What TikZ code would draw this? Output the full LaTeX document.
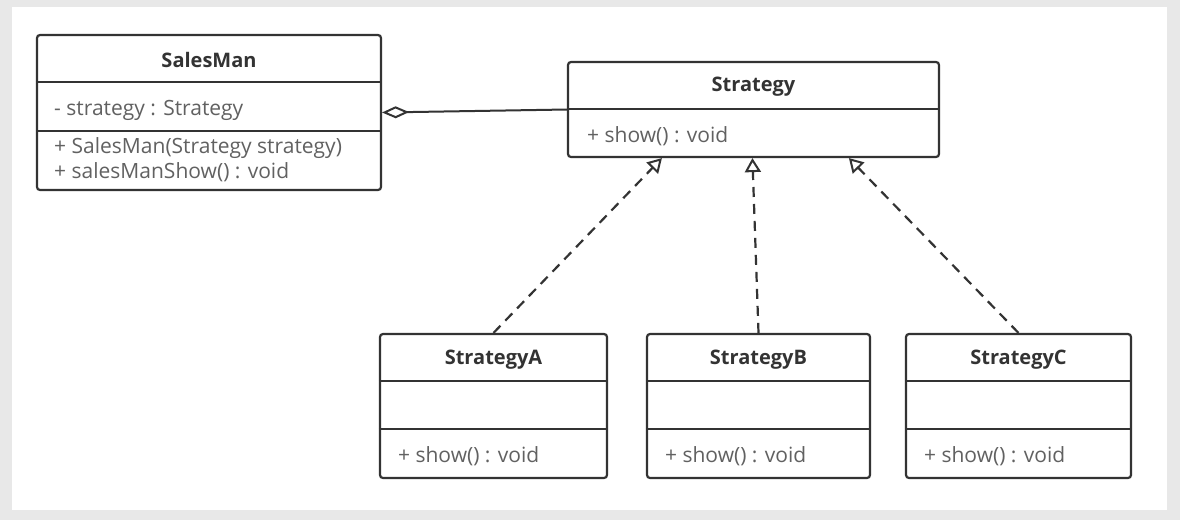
\documentclass[tikz,border=0pt]{standalone}
\usepackage{fontspec}
\setmainfont{Open Sans}
\usepackage{tikz}
\usetikzlibrary{positioning,calc,arrows.meta}

\begin{document}
\begin{tikzpicture}[x=1pt,y=-1pt,
  classbox/.style={draw=umlline,line width=2.2pt,rounded corners=3pt,fill=white,inner sep=0pt},
  divider/.style={draw=umlline,line width=2.2pt},
  classname/.style={font=\bfseries\fontsize{20}{24}\selectfont,text=umltitle},
  member/.style={font=\fontsize{21}{25}\selectfont,text=umltext,anchor=west,inner sep=0pt},
  aggregate/.style={draw=umlline,line width=2pt,{Diamond[open,length=27pt,width=12pt,line width=2pt]}-},
  realize/.style={draw=umlline,line width=2.2pt,dash pattern=on 10pt off 7pt,
    -{Triangle[open,length=14pt,width=16pt,line width=2pt]}}]
\colorlet{umlline}{black!80} \colorlet{umltitle}{black!80}
\colorlet{umltext}{black!62} \colorlet{frame}{black!9}
% frame and sheet
\fill[frame] (0,0) rectangle (1180,520);
\fill[white] (12,7) rectangle (1167,510);
% context class
\node[classbox,minimum width=344pt,minimum height=155pt] (salesman) at (209,112.5) {};
\draw[divider] ($(salesman.north west)+(0,48)$) -- ($(salesman.north east)+(0,48)$);
\draw[divider] ($(salesman.north west)+(0,97)$) -- ($(salesman.north east)+(0,97)$);
\node[classname] (salesmanName) at ($(salesman.north)+(0,26)$) {SalesMan};
\node[member] (salesmanAttr) at (54,110) {- strategy : Strategy};
\node[member] (salesmanCtor) at (54,148) {+ SalesMan(Strategy strategy)};
\node[member] (salesmanShow) at (54,172) {+ salesManShow() : void};
% interface
\node[classbox,minimum width=371pt,minimum height=95pt] (strategy) at (753.5,109.5) {};
\draw[divider] ($(strategy.north west)+(0,48)$) -- ($(strategy.north east)+(0,48)$);
\node[classname] (strategyName) at ($(strategy.north)+(0,26)$) {Strategy};
\node[member] (strategyShow) at (587,136) {+ show() : void};
% concrete strategies
\foreach \impl/\cx/\w/\label in {strategyA/493.5/227/StrategyA,
    strategyB/758.5/223/StrategyB, strategyC/1018.5/225/StrategyC}{
  \node[classbox,minimum width=\w pt,minimum height=144pt] (\impl) at (\cx,406) {};
  \draw[divider] ($(\impl.north west)+(0,48)$) -- ($(\impl.north east)+(0,48)$);
  \draw[divider] ($(\impl.north west)+(0,96)$) -- ($(\impl.north east)+(0,96)$);
  \node[classname] (\impl Name) at ($(\impl.north)+(0,27)$) {\label};
  \node[member] (\impl Show) at ($(\impl.north west)+(19,123)$) {+ show() : void};
}
% relations
\draw[aggregate] (salesman.east) -- (strategy.west);
\foreach \impl/\xoff in {strategyA/95, strategyB/185.5, strategyC/282}
  \draw[realize] (\impl.north) -- ($(strategy.south west)+(\xoff,0)$);
\end{tikzpicture}
\end{document}
